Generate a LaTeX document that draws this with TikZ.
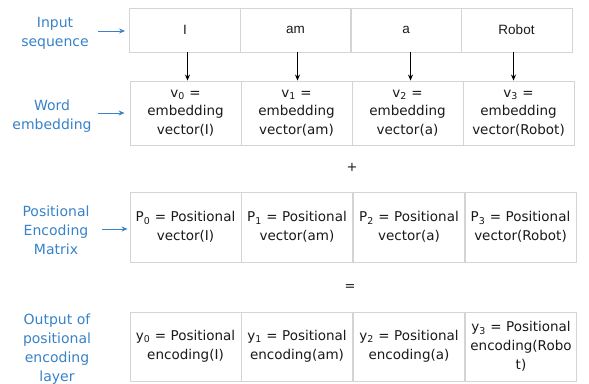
\documentclass[tikz,border=0pt]{standalone}
\usepackage{fontspec}
\setmainfont{DejaVu Sans}
\newfontfamily\arialfont{Liberation Sans}
\usetikzlibrary{arrows.meta}
\definecolor{lblue}{RGB}{55,130,200}
\definecolor{cellgray}{RGB}{212,212,212}
\definecolor{txt}{RGB}{25,25,25}
\tikzset{
  cell/.style={draw=cellgray, line width=0.9pt, minimum width=111pt, text width=111pt, align=center, inner sep=0pt, text=txt, font=\fontsize{13.5}{18.8}\selectfont},
  lbl/.style={text=lblue, align=center, font=\fontsize{14}{18.8}\selectfont},
  larrow/.style={draw=lblue, line width=1pt, -{Stealth[length=6pt,width=5pt]}},
  darrow/.style={draw=black, line width=1.3pt, -{Stealth[length=6pt,width=5pt]}},
}
\begin{document}
\begin{tikzpicture}[x=1pt,y=-1pt]
\useasboundingbox (0,0) rectangle (589,383);
% Row 1
\foreach \n/\x/\t in {1/185/I,2/295.5/am,3/406/a,4/516.5/Robot}{
  \node[cell, minimum height=44pt, font=\arialfont\fontsize{13.5}{15}\selectfont] (i\n) at (\x,30) {\t};
}
% Row 2
\node[cell, minimum height=64pt] (e1) at (185.5,113) {v\textsubscript{0} =\\embedding\\vector(I)};
\node[cell, minimum height=64pt] (e2) at (296.5,113) {v\textsubscript{1} =\\embedding\\vector(am)};
\node[cell, minimum height=64pt] (e3) at (407.5,113) {v\textsubscript{2} =\\embedding\\vector(a)};
\node[cell, minimum height=64pt] (e4) at (518.5,113) {v\textsubscript{3} =\\embedding\\vector(Robot)};
% plus
\node[text=txt, font=\fontsize{13}{15}\selectfont] (plus) at (352,167) {+};
% Row 3
\node[cell, minimum height=70pt] (p1) at (185.5,227) {P\textsubscript{0} = Positional\\vector(I)};
\node[cell, minimum height=70pt] (p2) at (297,227) {P\textsubscript{1} = Positional\\vector(am)};
\node[cell, minimum height=70pt] (p3) at (409,227) {P\textsubscript{2} = Positional\\vector(a)};
\node[cell, minimum height=70pt] (p4) at (520.5,227) {P\textsubscript{3} = Positional\\vector(Robot)};
% equals
\node[text=txt, font=\fontsize{13}{15}\selectfont] (eq) at (350,288) {=};
% Row 4
\node[cell, minimum height=69pt] (o1) at (185.5,346.5) {y\textsubscript{0} = Positional\\encoding(I)};
\node[cell, minimum height=69pt] (o2) at (297,346.5) {y\textsubscript{1} = Positional\\encoding(am)};
\node[cell, minimum height=69pt] (o3) at (409,346.5) {y\textsubscript{2} = Positional\\encoding(a)};
\node[cell, minimum height=69pt] (o4) at (521,346.5) {y\textsubscript{3} = Positional\\encoding(Robo\\t)};
% arrows down
\foreach \n/\dx in {1/2.5,2/2,3/4.5,4/-3}{ \draw[darrow] ([xshift=\dx pt]i\n.south) -- ([xshift=\dx pt]i\n.south |- e\n.north); }
% left labels
\node[lbl] (l1) at (55,33) {Input\\sequence};
\node[lbl] (l2) at (52,116) {Word\\embedding};
\node[lbl] (l3) at (56,230) {Positional\\Encoding\\Matrix};
\node[lbl] (l4) at (57,349) {Output of\\positional\\encoding\\layer};
\coordinate (a1) at (98,31);
\coordinate (a2) at (98,113);
\coordinate (a3) at (102,229);
\draw[larrow, shorten >=4pt] (a1) -- (i1.west |- a1);
\draw[larrow, shorten >=5pt] (a2) -- (e1.west |- a2);
\draw[larrow, shorten >=2pt] (a3) -- (p1.west |- a3);
\end{tikzpicture}
\end{document}
